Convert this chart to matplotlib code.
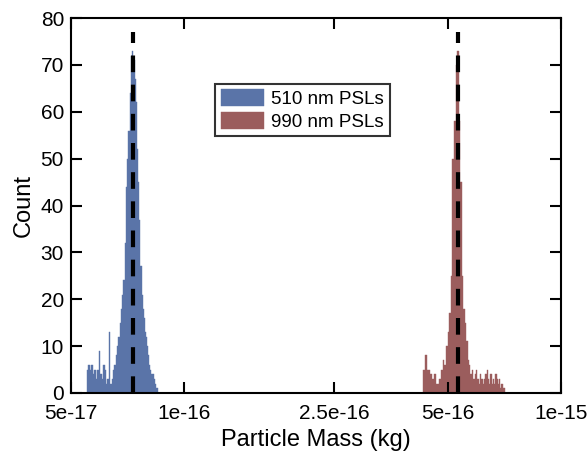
import numpy as np
import matplotlib
matplotlib.use("Agg")
import matplotlib.pyplot as plt

plt.rcParams['font.family'] = ['Liberation Sans', 'DejaVu Sans']

# --- data ---
blue_range = (5.5e-17, 8.5e-17)
blue_counts = [5, 6, 5, 6, 4, 5, 3, 5, 9, 4,
               3, 6, 5, 2, 3, 13, 2, 3, 5, 6,
               8, 10, 12, 15, 18, 21, 24, 32, 44, 50,
               56, 64, 72, 73, 71, 67, 62, 52, 45, 37,
               27, 21, 18, 16, 13, 12, 10, 8, 6, 5,
               4, 4, 3, 2, 1, 1]

red_range = (4.3e-16, 7.1e-16)
red_counts = [5, 8, 5, 5, 4, 3, 4, 2, 2, 3,
              5, 7, 6, 10, 13, 17, 25, 50, 58, 70,
              73, 58, 45, 25, 18, 15, 11, 7, 6, 4,
              5, 3, 4, 5, 3, 2, 4, 3, 2, 3,
              4, 5, 3, 2, 4, 2, 3, 2, 4, 3,
              2, 3, 1, 2, 1, 1]

ref_masses = [7.29e-17, 5.33e-16]   # nominal PSL masses
ref_top = 77

labels = ['510 nm PSLs', '990 nm PSLs']
colors = ['#5a74a8', '#9b5d5d']

xticks = [5e-17, 1e-16, 2.5e-16, 5e-16, 1e-15]
xticklabels = ['5e-17', '1e-16', '2.5e-16', '5e-16', '1e-15']

# --- plot ---
fig = plt.figure(figsize=(5.88, 4.55), dpi=100)
ax = fig.add_axes([0.1207, 0.1363, 0.8333, 0.8241])

for rng, counts, col, lab in zip([blue_range, red_range], [blue_counts, red_counts], colors, labels):
    edges = np.linspace(rng[0], rng[1], len(counts) + 1)
    ax.stairs(counts, edges, fill=True, color=col, label=lab, linewidth=0.3, edgecolor=col)

for m in ref_masses:
    ax.plot([m, m], [0, ref_top], color='black', lw=3, linestyle=(0, (4, 3)))

ax.set_xscale('log')
ax.set_xlim(5e-17, 1e-15)
ax.set_ylim(0, 80)
ax.set_xticks(xticks)
ax.set_xticklabels(xticklabels)
ax.xaxis.set_minor_locator(matplotlib.ticker.NullLocator())
ax.set_yticks(range(0, 81, 10))

ax.tick_params(axis='both', which='major', direction='in', length=8, width=1.5,
               top=True, right=True, labelsize=15)
ax.tick_params(axis='x', pad=8)
ax.tick_params(axis='y', pad=5)
for s in ax.spines.values():
    s.set_linewidth(1.5)

ax.set_xlabel('Particle Mass (kg)', fontsize=17, labelpad=4)
ax.set_ylabel('Count', fontsize=17, labelpad=4)

leg = ax.legend(loc='center', bbox_to_anchor=(0.472, 0.755), fontsize=13.5,
                frameon=True, fancybox=False, handlelength=2.3, handleheight=1.0,
                handletextpad=0.4, borderpad=0.3, labelspacing=0.2)
leg.get_frame().set_edgecolor('black')
leg.get_frame().set_linewidth(1.5)

fig.savefig('out.png', dpi=100)
